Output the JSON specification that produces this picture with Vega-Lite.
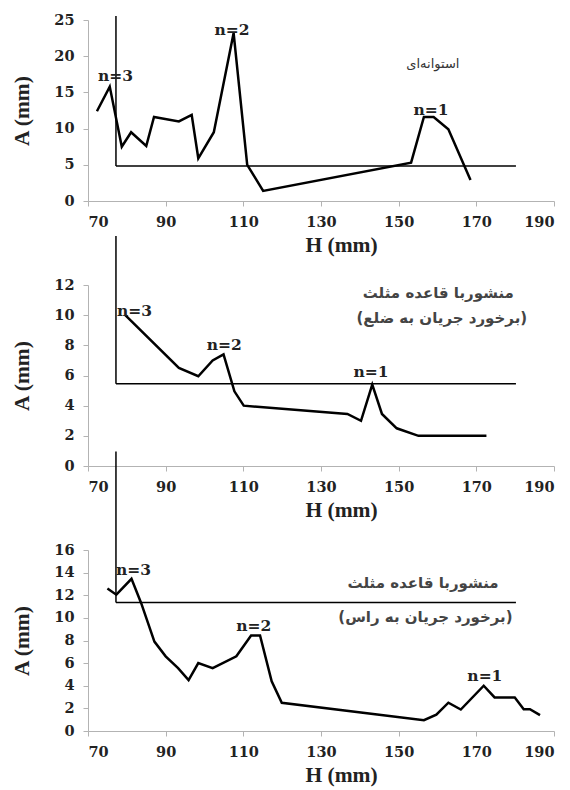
{
  "$schema": "https://vega.github.io/schema/vega-lite/v6.json",
  "background": "white",
  "padding": {"left": 11, "top": 12, "right": 2, "bottom": 2},
  "spacing": 84,
  "bounds": "flush",
  "datasets": {
    "line1": [
      {"H": 72.3, "A": 12.4}, {"H": 75.6, "A": 15.8}, {"H": 78.7, "A": 7.5}, {"H": 81.1, "A": 9.5},
      {"H": 85.0, "A": 7.6}, {"H": 87.0, "A": 11.6}, {"H": 93.4, "A": 11.0}, {"H": 96.7, "A": 11.9},
      {"H": 98.4, "A": 5.9}, {"H": 102.4, "A": 9.5}, {"H": 107.5, "A": 23.2}, {"H": 111.0, "A": 5.0},
      {"H": 115.1, "A": 1.4}, {"H": 153.2, "A": 5.3}, {"H": 156.5, "A": 11.6}, {"H": 159.0, "A": 11.6},
      {"H": 162.8, "A": 9.9}, {"H": 168.5, "A": 2.9}
    ],
    "line2": [
      {"H": 79.6, "A": 10.0}, {"H": 93.4, "A": 6.5}, {"H": 98.4, "A": 5.95}, {"H": 102.1, "A": 7.0},
      {"H": 104.9, "A": 7.4}, {"H": 107.7, "A": 4.95}, {"H": 110.1, "A": 4.0}, {"H": 136.8, "A": 3.45},
      {"H": 140.3, "A": 3.0}, {"H": 143.2, "A": 5.4}, {"H": 145.7, "A": 3.45}, {"H": 149.5, "A": 2.5},
      {"H": 155.1, "A": 2.0}, {"H": 172.6, "A": 2.0}
    ],
    "line3": [
      {"H": 75.0, "A": 12.6}, {"H": 77.3, "A": 12.05}, {"H": 81.2, "A": 13.45}, {"H": 83.7, "A": 11.3},
      {"H": 87.1, "A": 7.9}, {"H": 90.0, "A": 6.6}, {"H": 93.2, "A": 5.55}, {"H": 95.9, "A": 4.5},
      {"H": 98.4, "A": 6.0}, {"H": 102.1, "A": 5.55}, {"H": 108.2, "A": 6.6}, {"H": 112.0, "A": 8.45},
      {"H": 114.3, "A": 8.45}, {"H": 117.3, "A": 4.4}, {"H": 119.9, "A": 2.5}, {"H": 156.5, "A": 0.95},
      {"H": 159.7, "A": 1.45}, {"H": 162.8, "A": 2.5}, {"H": 166.0, "A": 1.9}, {"H": 171.9, "A": 4.0},
      {"H": 174.7, "A": 2.97}, {"H": 179.9, "A": 2.97}, {"H": 182.2, "A": 1.93}, {"H": 183.8, "A": 1.93},
      {"H": 186.4, "A": 1.4}
    ],
    "rules1": [
      {"H": 77.2, "H2": 77.2, "A": 25.55, "A2": 4.83},
      {"H": 77.2, "H2": 180.2, "A": 4.83, "A2": 4.83}
    ],
    "rules2": [
      {"H": 77.2, "H2": 77.2, "A": 15.25, "A2": 5.45},
      {"H": 77.2, "H2": 180.2, "A": 5.45, "A2": 5.45}
    ],
    "rules3": [
      {"H": 77.2, "H2": 77.2, "A": 24.7, "A2": 11.35},
      {"H": 77.2, "H2": 180.2, "A": 11.35, "A2": 11.35}
    ],
    "lab1": [
      {"H": 77.1, "A": 17.2, "t": "n=3"},
      {"H": 107.1, "A": 23.6, "t": "n=2"},
      {"H": 158.3, "A": 12.6, "t": "n=1"}
    ],
    "lab2": [
      {"H": 82.0, "A": 10.3, "t": "n=3"},
      {"H": 105.1, "A": 8.05, "t": "n=2"},
      {"H": 142.9, "A": 6.2, "t": "n=1"}
    ],
    "lab3": [
      {"H": 81.7, "A": 14.2, "t": "n=3"},
      {"H": 112.7, "A": 9.3, "t": "n=2"},
      {"H": 172.2, "A": 4.9, "t": "n=1"}
    ],
    "note1": [
      {"H": 158.8, "A": 18.9, "t": "استوانه‌ای"}
    ],
    "note2": [
      {"H": 160.2, "A": 11.5, "t": "منشوربا قاعده مثلث"},
      {"H": 161.1, "A": 9.8, "t": "(برخورد جریان به ضلع)"}
    ],
    "note3": [
      {"H": 156.3, "A": 13.1, "t": "منشوربا قاعده مثلث"},
      {"H": 156.9, "A": 10.1, "t": "(برخورد جریان به راس)"}
    ]
  },
  "config": {
    "view": {"stroke": null},
    "axis": {
      "grid": false,
      "labelOverlap": false,
      "domainColor": "#b3b3b3",
      "tickColor": "#b3b3b3",
      "tickSize": 5,
      "labelFont": "DejaVu Serif",
      "labelFontWeight": "bold",
      "labelFontSize": 14.5,
      "labelColor": "#222222",
      "titleFont": "Liberation Serif",
      "titleFontWeight": "bold",
      "titleFontSize": 21.5,
      "titleColor": "#222222"
    },
    "axisX": {"labelPadding": 9.5, "titlePadding": 5.5},
    "axisY": {"labelPadding": 9, "titlePadding": 20, "labelOverlap": false}
  },
  "vconcat": [
    {
      "width": 466,
      "height": 181,
      "encoding": {
        "x": {"field": "H", "type": "quantitative", "scale": {"domain": [70, 190], "nice": false},
              "axis": {"values": [70, 90, 110, 130, 150, 170, 190], "title": "H (mm)", "titleX": 253, "labelOverlap": false}},
        "y": {"field": "A", "type": "quantitative", "scale": {"domain": [0, 25], "nice": false},
              "axis": {"values": [0, 5, 10, 15, 20, 25], "title": "A (mm)", "labelOverlap": false}}
      },
      "layer": [
        {
          "data": {"name": "line1"},
          "mark": {"type": "line", "color": "black", "strokeWidth": 2.5}
        },
        {
          "data": {"name": "rules1"},
          "mark": {"type": "rule", "color": "black", "strokeWidth": 1.5},
          "encoding": {"x2": {"field": "H2"}, "y2": {"field": "A2"}}
        },
        {
          "data": {"name": "lab1"},
          "mark": {"type": "text", "font": "DejaVu Serif", "fontWeight": "bold", "fontSize": 15.5, "color": "#222222"},
          "encoding": {"text": {"field": "t"}}
        },
        {
          "data": {"name": "note1"},
          "mark": {"type": "text", "font": "DejaVu Sans", "fontSize": 13, "color": "#333333"},
          "encoding": {"text": {"field": "t"}}
        }
      ]
    },
    {
      "width": 466,
      "height": 181,
      "encoding": {
        "x": {"field": "H", "type": "quantitative", "scale": {"domain": [70, 190], "nice": false},
              "axis": {"values": [70, 90, 110, 130, 150, 170, 190], "title": "H (mm)", "titleX": 253, "labelOverlap": false}},
        "y": {"field": "A", "type": "quantitative", "scale": {"domain": [0, 12], "nice": false},
              "axis": {"values": [0, 2, 4, 6, 8, 10, 12], "title": "A (mm)", "labelOverlap": false}}
      },
      "layer": [
        {
          "data": {"name": "line2"},
          "mark": {"type": "line", "color": "black", "strokeWidth": 2.5}
        },
        {
          "data": {"name": "rules2"},
          "mark": {"type": "rule", "color": "black", "strokeWidth": 1.5},
          "encoding": {"x2": {"field": "H2"}, "y2": {"field": "A2"}}
        },
        {
          "data": {"name": "lab2"},
          "mark": {"type": "text", "font": "DejaVu Serif", "fontWeight": "bold", "fontSize": 15.5, "color": "#222222"},
          "encoding": {"text": {"field": "t"}}
        },
        {
          "data": {"name": "note2"},
          "mark": {"type": "text", "font": "DejaVu Sans", "fontSize": 15, "fontWeight": "bold", "color": "#444444"},
          "encoding": {"text": {"field": "t"}}
        }
      ]
    },
    {
      "width": 466,
      "height": 181,
      "encoding": {
        "x": {"field": "H", "type": "quantitative", "scale": {"domain": [70, 190], "nice": false},
              "axis": {"values": [70, 90, 110, 130, 150, 170, 190], "title": "H (mm)", "titleX": 253, "labelOverlap": false}},
        "y": {"field": "A", "type": "quantitative", "scale": {"domain": [0, 16], "nice": false},
              "axis": {"values": [0, 2, 4, 6, 8, 10, 12, 14, 16], "title": "A (mm)", "labelOverlap": false}}
      },
      "layer": [
        {
          "data": {"name": "line3"},
          "mark": {"type": "line", "color": "black", "strokeWidth": 2.5}
        },
        {
          "data": {"name": "rules3"},
          "mark": {"type": "rule", "color": "black", "strokeWidth": 1.5},
          "encoding": {"x2": {"field": "H2"}, "y2": {"field": "A2"}}
        },
        {
          "data": {"name": "lab3"},
          "mark": {"type": "text", "font": "DejaVu Serif", "fontWeight": "bold", "fontSize": 15.5, "color": "#222222"},
          "encoding": {"text": {"field": "t"}}
        },
        {
          "data": {"name": "note3"},
          "mark": {"type": "text", "font": "DejaVu Sans", "fontSize": 15, "fontWeight": "bold", "color": "#444444"},
          "encoding": {"text": {"field": "t"}}
        }
      ]
    }
  ]
}
